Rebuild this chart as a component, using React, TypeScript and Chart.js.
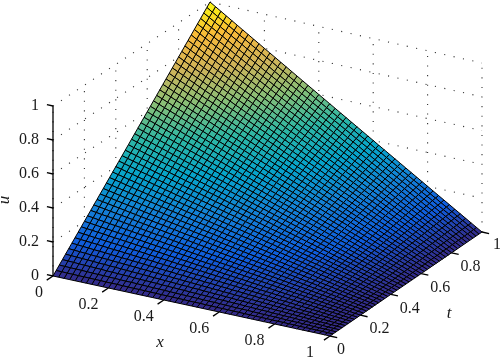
import React, { useEffect, useRef } from "react";
import { Chart, registerables } from "chart.js";

Chart.register(...registerables);

const xGrid = [0,.02,.04,.06,.08,.1,.12,.14,.16,.18,.2,.22,.24,.26,.28,.3,.32,.34,.36,.38,.4,.42,.44,.46,.48,.5,.52,.54,.56,.58,.6,.62,.64,.66,.68,.7,.72,.74,.76,.78,.8,.82,.84,.86,.88,.9,.92,.94,.96,.98,1];
const tGrid = xGrid.slice();
const xTicks = [0, 0.2, 0.4, 0.6, 0.8, 1];
const tTicks = [0, 0.2, 0.4, 0.6, 0.8, 1];
const uTicks = [0, 0.2, 0.4, 0.6, 0.8, 1];
const tickLabels = ["0", "0.2", "0.4", "0.6", "0.8", "1"];
const parula = ["#352a87", "#0f5cdd", "#1481d6", "#06a4ca", "#2eb7a4", "#87bf77", "#cfb45a", "#f9b93a", "#f9fb0e"];

// u in thousandths; rows follow tGrid, columns follow xGrid
const uRows = [
[0,0,0,0,0,0,0,0,0,0,0,0,0,0,0,0,0,0,0,0,0,0,0,0,0,0,0,0,0,0,0,0,0,0,0,0,0,0,0,0,0,0,0,0,0,0,0,0,0,0,0],
[20,20,19,19,18,18,18,17,17,16,16,16,15,15,14,14,14,13,13,12,12,12,11,11,10,10,10,9,9,8,8,8,7,7,6,6,6,5,5,4,4,4,3,3,2,2,2,1,1,0,0],
[40,39,38,38,37,36,35,34,34,33,32,31,30,30,29,28,27,26,26,25,24,23,22,22,21,20,19,18,18,17,16,15,14,14,13,12,11,10,10,9,8,7,6,6,5,4,3,2,2,1,0],
[60,59,58,56,55,54,53,52,50,49,48,47,46,44,43,42,41,40,38,37,36,35,34,32,31,30,29,28,26,25,24,23,22,20,19,18,17,16,14,13,12,11,10,8,7,6,5,4,2,1,0],
[80,78,77,75,74,72,70,69,67,66,64,62,61,59,58,56,54,53,51,50,48,46,45,43,42,40,38,37,35,34,32,30,29,27,26,24,22,21,19,18,16,14,13,11,10,8,6,5,3,2,0],
[100,98,96,94,92,90,88,86,84,82,80,78,76,74,72,70,68,66,64,62,60,58,56,54,52,50,48,46,44,42,40,38,36,34,32,30,28,26,24,22,20,18,16,14,12,10,8,6,4,2,0],
[120,118,115,113,110,108,106,103,101,98,96,94,91,89,86,84,82,79,77,74,72,70,67,65,62,60,58,55,53,50,48,46,43,41,38,36,34,31,29,26,24,22,19,17,14,12,10,7,5,2,0],
[140,137,134,132,129,126,123,120,118,115,112,109,106,104,101,98,95,92,90,87,84,81,78,76,73,70,67,64,62,59,56,53,50,48,45,42,39,36,34,31,28,25,22,20,17,14,11,8,6,3,0],
[160,157,154,150,147,144,141,138,134,131,128,125,122,118,115,112,109,106,102,99,96,93,90,86,83,80,77,74,70,67,64,61,58,54,51,48,45,42,38,35,32,29,26,22,19,16,13,10,6,3,0],
[180,176,173,169,166,162,158,155,151,148,144,140,137,133,130,126,122,119,115,112,108,104,101,97,94,90,86,83,79,76,72,68,65,61,58,54,50,47,43,40,36,32,29,25,22,18,14,11,7,4,0],
[200,196,192,188,184,180,176,172,168,164,160,156,152,148,144,140,136,132,128,124,120,116,112,108,104,100,96,92,88,84,80,76,72,68,64,60,56,52,48,44,40,36,32,28,24,20,16,12,8,4,0],
[220,216,211,207,202,198,194,189,185,180,176,172,167,163,158,154,150,145,141,136,132,128,123,119,114,110,106,101,97,92,88,84,79,75,70,66,62,57,53,48,44,40,35,31,26,22,18,13,9,4,0],
[240,235,230,226,221,216,211,206,202,197,192,187,182,178,173,168,163,158,154,149,144,139,134,130,125,120,115,110,106,101,96,91,86,82,77,72,67,62,58,53,48,43,38,34,29,24,19,14,10,5,0],
[260,255,250,244,239,234,229,224,218,213,208,203,198,192,187,182,177,172,166,161,156,151,146,140,135,130,125,120,114,109,104,99,94,88,83,78,73,68,62,57,52,47,42,36,31,26,21,16,10,5,0],
[280,274,269,263,258,252,246,241,235,230,224,218,213,207,202,196,190,185,179,174,168,162,157,151,146,140,134,129,123,118,112,106,101,95,90,84,78,73,67,62,56,50,45,39,34,28,22,17,11,6,0],
[300,294,288,282,276,270,264,258,252,246,240,234,228,222,216,210,204,198,192,186,180,174,168,162,156,150,144,138,132,126,120,114,108,102,96,90,84,78,72,66,60,54,48,42,36,30,24,18,12,6,0],
[320,314,307,301,294,288,282,275,269,262,256,250,243,237,230,224,218,211,205,198,192,186,179,173,166,160,154,147,141,134,128,122,115,109,102,96,90,83,77,70,64,58,51,45,38,32,26,19,13,6,0],
[340,333,326,320,313,306,299,292,286,279,272,265,258,252,245,238,231,224,218,211,204,197,190,184,177,170,163,156,150,143,136,129,122,116,109,102,95,88,82,75,68,61,54,48,41,34,27,20,14,7,0],
[360,353,346,338,331,324,317,310,302,295,288,281,274,266,259,252,245,238,230,223,216,209,202,194,187,180,173,166,158,151,144,137,130,122,115,108,101,94,86,79,72,65,58,50,43,36,29,22,14,7,0],
[380,372,365,357,350,342,334,327,319,312,304,296,289,281,274,266,258,251,243,236,228,220,213,205,198,190,182,175,167,160,152,144,137,129,122,114,106,99,91,84,76,68,61,53,46,38,30,23,15,8,0],
[400,392,384,376,368,360,352,344,336,328,320,312,304,296,288,280,272,264,256,248,240,232,224,216,208,200,192,184,176,168,160,152,144,136,128,120,112,104,96,88,80,72,64,56,48,40,32,24,16,8,0],
[420,412,403,395,386,378,370,361,353,344,336,328,319,311,302,294,286,277,269,260,252,244,235,227,218,210,202,193,185,176,168,160,151,143,134,126,118,109,101,92,84,76,67,59,50,42,34,25,17,8,0],
[440,431,422,414,405,396,387,378,370,361,352,343,334,326,317,308,299,290,282,273,264,255,246,238,229,220,211,202,194,185,176,167,158,150,141,132,123,114,106,97,88,79,70,62,53,44,35,26,18,9,0],
[460,451,442,432,423,414,405,396,386,377,368,359,350,340,331,322,313,304,294,285,276,267,258,248,239,230,221,212,202,193,184,175,166,156,147,138,129,120,110,101,92,83,74,64,55,46,37,28,18,9,0],
[480,470,461,451,442,432,422,413,403,394,384,374,365,355,346,336,326,317,307,298,288,278,269,259,250,240,230,221,211,202,192,182,173,163,154,144,134,125,115,106,96,86,77,67,58,48,38,29,19,10,0],
[500,490,480,470,460,450,440,430,420,410,400,390,380,370,360,350,340,330,320,310,300,290,280,270,260,250,240,230,220,210,200,190,180,170,160,150,140,130,120,110,100,90,80,70,60,50,40,30,20,10,0],
[520,510,499,489,478,468,458,447,437,426,416,406,395,385,374,364,354,343,333,322,312,302,291,281,270,260,250,239,229,218,208,198,187,177,166,156,146,135,125,114,104,94,83,73,62,52,42,31,21,10,0],
[540,529,518,508,497,486,475,464,454,443,432,421,410,400,389,378,367,356,346,335,324,313,302,292,281,270,259,248,238,227,216,205,194,184,173,162,151,140,130,119,108,97,86,76,65,54,43,32,22,11,0],
[560,549,538,526,515,504,493,482,470,459,448,437,426,414,403,392,381,370,358,347,336,325,314,302,291,280,269,258,246,235,224,213,202,190,179,168,157,146,134,123,112,101,90,78,67,56,45,34,22,11,0],
[580,568,557,545,534,522,510,499,487,476,464,452,441,429,418,406,394,383,371,360,348,336,325,313,302,290,278,267,255,244,232,220,209,197,186,174,162,151,139,128,116,104,93,81,70,58,46,35,23,12,0],
[600,588,576,564,552,540,528,516,504,492,480,468,456,444,432,420,408,396,384,372,360,348,336,324,312,300,288,276,264,252,240,228,216,204,192,180,168,156,144,132,120,108,96,84,72,60,48,36,24,12,0],
[620,608,595,583,570,558,546,533,521,508,496,484,471,459,446,434,422,409,397,384,372,360,347,335,322,310,298,285,273,260,248,236,223,211,198,186,174,161,149,136,124,112,99,87,74,62,50,37,25,12,0],
[640,627,614,602,589,576,563,550,538,525,512,499,486,474,461,448,435,422,410,397,384,371,358,346,333,320,307,294,282,269,256,243,230,218,205,192,179,166,154,141,128,115,102,90,77,64,51,38,26,13,0],
[660,647,634,620,607,594,581,568,554,541,528,515,502,488,475,462,449,436,422,409,396,383,370,356,343,330,317,304,290,277,264,251,238,224,211,198,185,172,158,145,132,119,106,92,79,66,53,40,26,13,0],
[680,666,653,639,626,612,598,585,571,558,544,530,517,503,490,476,462,449,435,422,408,394,381,367,354,340,326,313,299,286,272,258,245,231,218,204,190,177,163,150,136,122,109,95,82,68,54,41,27,14,0],
[700,686,672,658,644,630,616,602,588,574,560,546,532,518,504,490,476,462,448,434,420,406,392,378,364,350,336,322,308,294,280,266,252,238,224,210,196,182,168,154,140,126,112,98,84,70,56,42,28,14,0],
[720,706,691,677,662,648,634,619,605,590,576,562,547,533,518,504,490,475,461,446,432,418,403,389,374,360,346,331,317,302,288,274,259,245,230,216,202,187,173,158,144,130,115,101,86,72,58,43,29,14,0],
[740,725,710,696,681,666,651,636,622,607,592,577,562,548,533,518,503,488,474,459,444,429,414,400,385,370,355,340,326,311,296,281,266,252,237,222,207,192,178,163,148,133,118,104,89,74,59,44,30,15,0],
[760,745,730,714,699,684,669,654,638,623,608,593,578,562,547,532,517,502,486,471,456,441,426,410,395,380,365,350,334,319,304,289,274,258,243,228,213,198,182,167,152,137,122,106,91,76,61,46,30,15,0],
[780,764,749,733,718,702,686,671,655,640,624,608,593,577,562,546,530,515,499,484,468,452,437,421,406,390,374,359,343,328,312,296,281,265,250,234,218,203,187,172,156,140,125,109,94,78,62,47,31,16,0],
[800,784,768,752,736,720,704,688,672,656,640,624,608,592,576,560,544,528,512,496,480,464,448,432,416,400,384,368,352,336,320,304,288,272,256,240,224,208,192,176,160,144,128,112,96,80,64,48,32,16,0],
[820,804,787,771,754,738,722,705,689,672,656,640,623,607,590,574,558,541,525,508,492,476,459,443,426,410,394,377,361,344,328,312,295,279,262,246,230,213,197,180,164,148,131,115,98,82,66,49,33,16,0],
[840,823,806,790,773,756,739,722,706,689,672,655,638,622,605,588,571,554,538,521,504,487,470,454,437,420,403,386,370,353,336,319,302,286,269,252,235,218,202,185,168,151,134,118,101,84,67,50,34,17,0],
[860,843,826,808,791,774,757,740,722,705,688,671,654,636,619,602,585,568,550,533,516,499,482,464,447,430,413,396,378,361,344,327,310,292,275,258,241,224,206,189,172,155,138,120,103,86,69,52,34,17,0],
[880,862,845,827,810,792,774,757,739,722,704,686,669,651,634,616,598,581,563,546,528,510,493,475,458,440,422,405,387,370,352,334,317,299,282,264,246,229,211,194,176,158,141,123,106,88,70,53,35,18,0],
[900,882,864,846,828,810,792,774,756,738,720,702,684,666,648,630,612,594,576,558,540,522,504,486,468,450,432,414,396,378,360,342,324,306,288,270,252,234,216,198,180,162,144,126,108,90,72,54,36,18,0],
[920,902,883,865,846,828,810,791,773,754,736,718,699,681,662,644,626,607,589,570,552,534,515,497,478,460,442,423,405,386,368,350,331,313,294,276,258,239,221,202,184,166,147,129,110,92,74,55,37,18,0],
[940,921,902,884,865,846,827,808,790,771,752,733,714,696,677,658,639,620,602,583,564,545,526,508,489,470,451,432,414,395,376,357,338,320,301,282,263,244,226,207,188,169,150,132,113,94,75,56,38,19,0],
[960,941,922,902,883,864,845,826,806,787,768,749,730,710,691,672,653,634,614,595,576,557,538,518,499,480,461,442,422,403,384,365,346,326,307,288,269,250,230,211,192,173,154,134,115,96,77,58,38,19,0],
[980,960,941,921,902,882,862,843,823,804,784,764,745,725,706,686,666,647,627,608,588,568,549,529,510,490,470,451,431,412,392,372,353,333,314,294,274,255,235,216,196,176,157,137,118,98,78,59,39,20,0],
[1000,980,960,940,920,900,880,860,840,820,800,780,760,740,720,700,680,660,640,620,600,580,560,540,520,500,480,460,440,420,400,380,360,340,320,300,280,260,240,220,200,180,160,140,120,100,80,60,40,20,0],
];

// View: where the floor corners and the box height land in the 500x359 plot.
const C00 = [53, 276], C10 = [330, 336], C11 = [482, 232], C01 = [210, 173];
const H00 = 170, H10 = 169, H11 = 169, H01 = 171;

function project(x: number, t: number, u: number) {
  const a = (1 - x) * (1 - t), b = x * (1 - t), c = x * t, d = (1 - x) * t;
  return {
    x: a * C00[0] + b * C10[0] + c * C11[0] + d * C01[0],
    y: a * C00[1] + b * C10[1] + c * C11[1] + d * C01[1] - u * (a * H00 + b * H10 + c * H11 + d * H01),
  };
}

function colorFor(v: number) {
  const p = Math.min(parula.length - 1.0001, Math.max(0, v) * (parula.length - 1));
  const k = Math.floor(p), f = p - k;
  const ch = (hex: string, s: number) => parseInt(hex.slice(s, s + 2), 16);
  const mix = (s: number) => Math.round(ch(parula[k], s) * (1 - f) + ch(parula[k + 1], s) * f);
  return `rgb(${mix(1)},${mix(3)},${mix(5)})`;
}

const line = (data: { x: number; y: number }[], color: string, width: number, dash: number[] = []) => ({
  data,
  borderColor: color,
  borderWidth: width,
  borderDash: dash,
  fill: false,
  pointRadius: 0,
});

function buildDatasets() {
  const out: any[] = [];
  // axis lines and tick marks
  out.push(line([project(0, 0, 0), project(0, 0, 1)], "#000", 1.3));
  uTicks.forEach((u) => out.push(line([project(-0.022, 0, u), project(0, 0, u)], "#000", 1.3)));
  xTicks.forEach((x) => out.push(line([project(x, -0.04, 0), project(x, 0, 0)], "#000", 1.3)));
  tTicks.forEach((t) => out.push(line([project(1, t, 0), project(1.026, t, 0)], "#000", 1.3)));
  // surface
  for (let i = 0; i < tGrid.length - 1; i++) {
    for (let j = 0; j < xGrid.length - 1; j++) {
      const u00 = uRows[i][j] / 1000, u01 = uRows[i][j + 1] / 1000, u10 = uRows[i + 1][j] / 1000, u11 = uRows[i + 1][j + 1] / 1000;
      out.push({
        data: [
          project(xGrid[j], tGrid[i], u00),
          project(xGrid[j + 1], tGrid[i], u01),
          project(xGrid[j + 1], tGrid[i + 1], u11),
          project(xGrid[j], tGrid[i + 1], u10),
          project(xGrid[j], tGrid[i], u00),
        ],
        borderColor: "#000",
        borderWidth: 1,
        backgroundColor: colorFor((u00 + u01 + u10 + u11) / 4),
        fill: "shape",
        pointRadius: 0,
      });
    }
  }
  // dotted walls
  const dots = [1.1, 8.5];
  uTicks.forEach((u) => {
    out.push(line([project(0, 0, u), project(0, 1, u)], "#333", 1.1, dots));
    out.push(line([project(0, 1, u), project(1, 1, u)], "#333", 1.1, dots));
  });
  tTicks.forEach((t) => out.push(line([project(0, t, 0), project(0, t, 1)], "#333", 1.1, dots)));
  xTicks.forEach((x) => out.push(line([project(x, 1, 0), project(x, 1, 1)], "#333", 1.1, dots)));
  return out;
}

const labelPlugin = {
  id: "boxLabels",
  afterDraw(chart: any) {
    const { ctx, scales } = chart;
    const px = (p: { x: number; y: number }, dx: number, dy: number) => [scales.x.getPixelForValue(p.x) + dx, scales.y.getPixelForValue(p.y) + dy];
    ctx.save();
    ctx.fillStyle = "#1a1a1a";
    ctx.textBaseline = "middle";
    ctx.font = '16px "Liberation Serif"';
    ctx.textAlign = "right";
    uTicks.forEach((u, k) => {
      const [a, b] = px(project(0, 0, u), -14, 0);
      ctx.fillText(tickLabels[k], a, b);
    });
    ctx.textAlign = "center";
    xTicks.forEach((x, k) => {
      const [a, b] = px(project(x, 0, 0), k === 0 ? -14 : -20, 17);
      ctx.fillText(tickLabels[k], a, b);
    });
    tTicks.forEach((t, k) => {
      const [a, b] = px(project(1, t, 0), k === 0 ? 11 : k === 5 ? 15 : 19, k === 5 ? 13 : 14);
      ctx.fillText(tickLabels[k], a, b);
    });
    ctx.font = 'italic 17px "Liberation Serif"';
    ctx.fillText("x", 160, 343);
    ctx.fillText("t", 449, 314);
    ctx.translate(5, 200);
    ctx.rotate(-Math.PI / 2);
    ctx.fillText("u", 0, 0);
    ctx.restore();
  },
};

export default function App() {
  const ref = useRef<HTMLCanvasElement>(null);
  useEffect(() => {
    document.body.style.margin = "0";
    const chart = new Chart(ref.current as HTMLCanvasElement, {
      type: "line",
      data: { datasets: buildDatasets() },
      options: {
        animation: false,
        responsive: false,
        events: [],
        layout: { padding: 0 },
        elements: { line: { tension: 0 } },
        plugins: { legend: { display: false }, tooltip: { enabled: false } },
        scales: {
          x: { type: "linear", min: 0, max: 500, display: false },
          y: { type: "linear", min: 0, max: 359, reverse: true, display: false },
        },
      },
      plugins: [labelPlugin],
    } as any);
    return () => chart.destroy();
  }, []);
  return <canvas ref={ref} width={500} height={359} style={{ display: "block", width: 500, height: 359, filter: "blur(0.35px)" }} />;
}
